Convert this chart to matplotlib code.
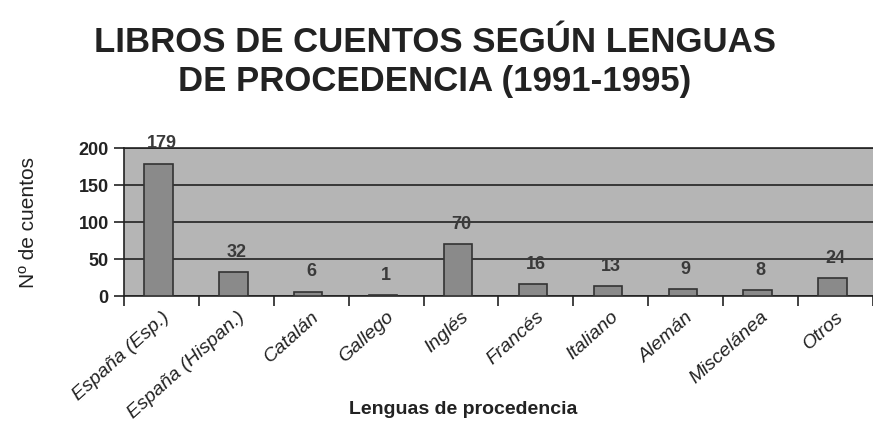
import matplotlib.pyplot as plt
import matplotlib.transforms as mtransforms
import numpy as np

plt.rcParams['font.family'] = ['Liberation Sans', 'DejaVu Sans']

# data
lenguas = ['España (Esp.)', 'España (Hispan.)', 'Catalán', 'Gallego', 'Inglés',
           'Francés', 'Italiano', 'Alemán', 'Miscelánea', 'Otros']
cuentos = [179, 32, 6, 1, 70, 16, 13, 9, 8, 24]
y_ticks = [0, 50, 100, 150, 200]

text_col = '#222222'

fig = plt.figure(figsize=(8.73, 4.23), dpi=100)
ax = fig.add_axes([0.142, 0.300, 0.858, 0.350])
ax.set_facecolor('#b5b5b5')

x = np.arange(len(lenguas))
ax.bar(x - 0.04, cuentos, width=0.38, color='#8a8a8a', edgecolor='#333333',
       linewidth=1.2, zorder=3)

# value labels sit a bit above each bar
for xi, v in zip(x, cuentos):
    ax.text(xi, v + 27, str(v), ha='center', va='center', fontsize=13,
            fontweight='bold', color='#3a3a3a', zorder=4)

ax.set_ylim(0, 200)
ax.set_xlim(-0.5, 9.42)
ax.set_yticks(y_ticks)
ax.set_yticklabels([str(t) for t in y_ticks], fontsize=13, fontweight='bold',
                   color=text_col)
ax.yaxis.grid(True, color='#222222', linewidth=1.2, zorder=1)
ax.set_axisbelow(True)

# ticks between categories, labels under the centres
ax.set_xticks(np.arange(-0.5, 10, 1))
ax.set_xticklabels([])
ax.set_xticks(x, minor=True)
ax.set_xticklabels(lenguas, minor=True, rotation=42, ha='right',
                   rotation_mode='anchor', fontsize=14, style='italic',
                   color=text_col)
shift = mtransforms.ScaledTranslation(-6 / 100, 0, fig.dpi_scale_trans)
for lbl in ax.get_xticklabels(minor=True):
    lbl.set_transform(lbl.get_transform() + shift)
ax.tick_params(axis='x', which='major', length=7, width=1.2, color='#222222')
ax.tick_params(axis='x', which='minor', length=0, pad=9)
ax.tick_params(axis='y', length=7, width=1.2, color='#222222', pad=4)

for side in ['left', 'bottom', 'top']:
    ax.spines[side].set_color('#222222')
    ax.spines[side].set_linewidth(1.2)
ax.spines['right'].set_visible(False)

ax.set_ylabel('Nº de cuentos', fontsize=15, color=text_col)
ax.yaxis.set_label_coords(-0.115, 0.5)
fig.text(0.53, 0.031, 'Lenguas de procedencia', ha='center', va='center',
         fontsize=14, fontweight='bold', color=text_col)

fig.text(0.498, 0.853, 'LIBROS DE CUENTOS SEGÚN LENGUAS\nDE PROCEDENCIA (1991-1995)',
         ha='center', va='center', fontsize=25, fontweight='bold',
         color=text_col, linespacing=1.25)

fig.savefig('out.png', dpi=100)
